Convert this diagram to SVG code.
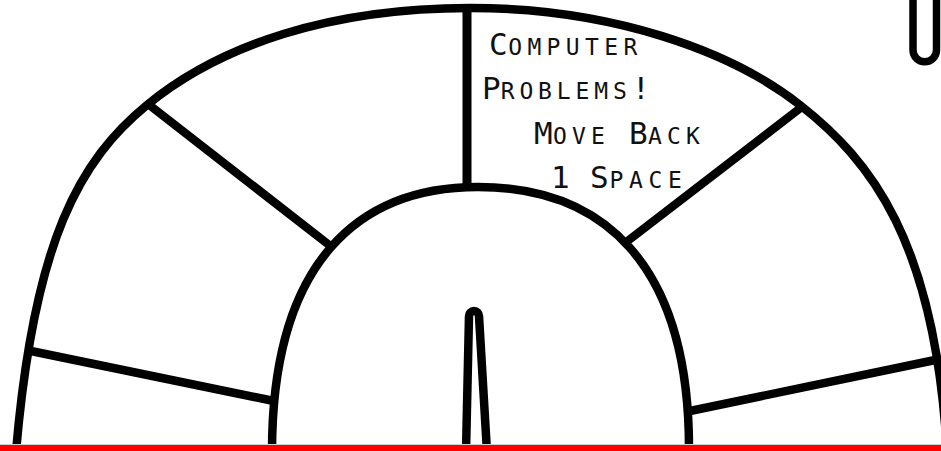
<svg xmlns="http://www.w3.org/2000/svg" width="941" height="451" viewBox="0 0 941 451">
  <style>
    .ln { fill: none; stroke: #000; stroke-width: 8.5; stroke-linejoin: round; }
    .lbl { font-family: "DejaVu Sans Mono", "Liberation Mono", monospace; font-size: 31px; fill: #111; }
    .sc { font-size: 33px; font-variant: small-caps; }
  </style>
  <rect width="941" height="451" fill="#fff"/>
  <g id="board">
    <path id="outer-track" class="ln" d="M16,452 C34,240 80,160 147,105 C220,45 330,8 470,8 C610,8 730,50 800,105 C870,160 935,240 947,452"/>
    <path id="inner-track" class="ln" d="M272,452 C272,260 360,187 478,187 C600,187 690,260 689,452"/>
  </g>
  <g id="dividers">
    <line class="ln" x1="467" y1="6" x2="467" y2="189" style="stroke-width:9"/>
    <line class="ln" x1="148" y1="104" x2="333" y2="248"/>
    <line class="ln" x1="803" y1="106" x2="625" y2="243"/>
    <line class="ln" x1="26" y1="350" x2="274" y2="401"/>
    <line class="ln" x1="690" y1="411" x2="940" y2="359"/>
  </g>
  <g id="spinner">
    <path class="ln" d="M466,452 L469,316 A5,5 0 0 1 479,316 L487,452"/>
  </g>
  <g id="clip">
    <path class="ln" style="stroke-width:7.5" d="M913,-5 L913,50 A11.75,11.75 0 0 0 936.5,50 L936.5,-5"/>
  </g>
  <g id="space-label">
    <text class="lbl">
      <tspan x="489" y="55">C</tspan><tspan class="sc" x="508.2 527.4 546.6 565.8 585 604.2 623.4" y="55">omputer</tspan>
      <tspan x="482" y="99">P</tspan><tspan class="sc" x="500.7 519.4 538.1 556.8 575.5 594.2 612.9" y="99">roblems</tspan><tspan x="631.6" y="99">!</tspan>
      <tspan x="534" y="144">M</tspan><tspan class="sc" x="553 572 591" y="144">ove</tspan><tspan x="629" y="144">B</tspan><tspan class="sc" x="648 667 686" y="144">ack</tspan>
      <tspan x="551" y="188">1</tspan><tspan x="590" y="188">S</tspan><tspan class="sc" x="609.5 629 648.5 668" y="188">pace</tspan>
    </text>
  </g>
  <g id="bottom-bar">
    <rect x="0" y="444" width="941" height="1" fill="#cfcfcf"/>
    <rect x="0" y="445" width="941" height="6" fill="#ff0000"/>
  </g>
</svg>
